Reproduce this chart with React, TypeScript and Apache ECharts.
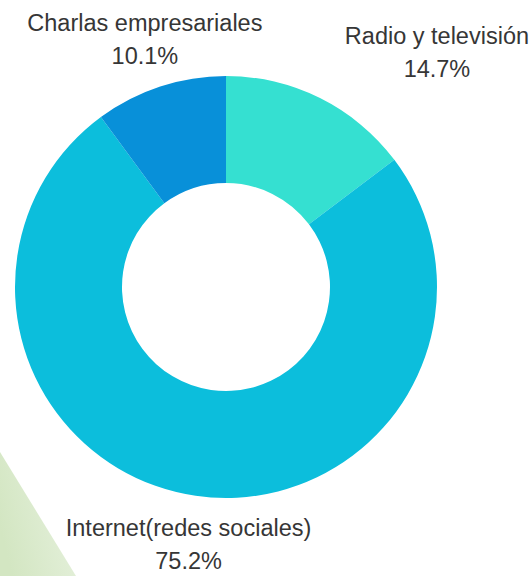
import React, { useEffect, useRef } from "react";
import * as echarts from "echarts";

// Channel shares (percent), drawn clockwise from 12 o'clock
const categories = ["Radio y televisión", "Internet(redes sociales)", "Charlas empresariales"];
const shares = [14.7, 75.2, 10.1];
const colors = ["#35E0D1", "#0CBEDC", "#0890D9"];

const CX = 226;
const CY = 287;
const LABEL_R = 260;

export default function App() {
  const ref = useRef<HTMLDivElement>(null);

  useEffect(() => {
    if (!ref.current) return;
    const chart = echarts.init(ref.current, null, { renderer: "svg" });
    const total = shares.reduce((a, b) => a + b, 0);

    chart.setOption({
      animation: false,
      backgroundColor: "#ffffff",
      graphic: [
        {
          // soft green corner accent
          type: "polygon",
          z: -10,
          silent: true,
          shape: { points: [[0, 452], [0, 576], [76, 576]] },
          style: {
            fill: new echarts.graphic.LinearGradient(0, 0.6, 1, 0.2, [
              { offset: 0, color: "#d3e6c2" },
              { offset: 0.7, color: "#e1eed6" },
              { offset: 1, color: "#f1f7ec" },
            ]),
          },
        },
      ],
      series: [
        {
          type: "pie",
          center: [CX, CY],
          radius: [104, 211],
          startAngle: 90,
          clockwise: true,
          avoidLabelOverlap: false,
          itemStyle: { borderWidth: 0 },
          label: {
            show: true,
            position: "outside",
            color: "#363636",
            fontFamily: "Liberation Sans, Arial, sans-serif",
            fontSize: 23.5,
            lineHeight: 33,
            align: "center",
            formatter: (p: any) => `${p.name}\n${(p.value as number).toFixed(1)}%`,
          },
          labelLine: { show: false },
          labelLayout: (p: any) => {
            const i = p.dataIndex;
            let cum = 0;
            for (let k = 0; k < i; k++) cum += shares[k];
            const mid = ((cum + shares[i] / 2) / total) * Math.PI * 2;
            const x = CX + LABEL_R * Math.sin(mid);
            const y = CY - LABEL_R * Math.cos(mid);
            // the first label starts at its anchor and extends to the right
            const shift = i === 0 ? p.labelRect.width / 2 + 3 : 0;
            return {
              x: x + shift,
              y: i === 0 ? y - 2 : y,
              align: "center",
              verticalAlign: "middle",
            };
          },
          data: categories.map((name, i) => ({
            name,
            value: shares[i],
            itemStyle: { color: colors[i] },
          })),
        },
      ],
    });

    return () => chart.dispose();
  }, []);

  return (
    <div
      ref={ref}
      style={{ position: "absolute", left: 0, top: 0, width: 532, height: 576 }}
    />
  );
}
